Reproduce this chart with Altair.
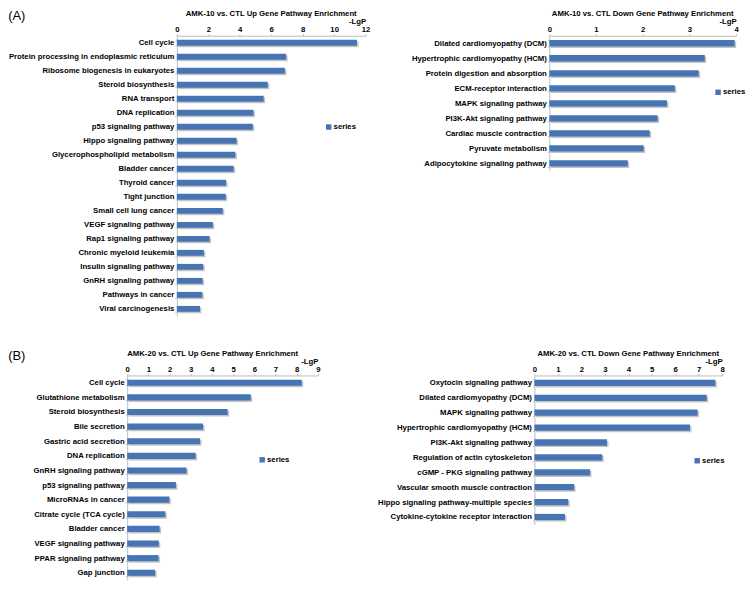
import altair as alt
import pandas as pd

FONT = "Liberation Sans"
BLUE = "#4775b3"
SHADOW = "#c4c4c4"
FS = 7.8

# ---- data ----
a1_cats = ["Cell cycle", "Protein processing in endoplasmic reticulum",
           "Ribosome biogenesis in eukaryotes", "Steroid biosynthesis", "RNA transport",
           "DNA replication", "p53 signaling pathway", "Hippo signaling pathway",
           "Glycerophospholipid metabolism", "Bladder cancer", "Thyroid cancer",
           "Tight junction", "Small cell lung cancer", "VEGF signaling pathway",
           "Rap1 signaling pathway", "Chronic myeloid leukemia", "Insulin signaling pathway",
           "GnRH signaling pathway", "Pathways in cancer", "Viral carcinogenesis"]
a1_vals = [11.45, 6.95, 6.87, 5.78, 5.52, 4.87, 4.83, 3.80, 3.72, 3.61,
           3.13, 3.11, 2.92, 2.29, 2.08, 1.72, 1.68, 1.64, 1.62, 1.47]

a2_cats = ["Dilated cardiomyopathy (DCM)", "Hypertrophic cardiomyopathy (HCM)",
           "Protein digestion and absorption", "ECM-receptor interaction",
           "MAPK signaling pathway", "PI3K-Akt signaling pathway",
           "Cardiac muscle contraction", "Pyruvate metabolism",
           "Adipocytokine signaling pathway"]
a2_vals = [3.97, 3.33, 3.20, 2.69, 2.52, 2.32, 2.15, 2.02, 1.68]

b1_cats = ["Cell cycle", "Glutathione metabolism", "Steroid biosynthesis", "Bile secretion",
           "Gastric acid secretion", "DNA replication", "GnRH signaling pathway",
           "p53 signaling pathway", "MicroRNAs in cancer", "Citrate cycle (TCA cycle)",
           "Bladder cancer", "VEGF signaling pathway", "PPAR signaling pathway",
           "Gap junction"]
b1_vals = [8.24, 5.83, 4.74, 3.58, 3.44, 3.23, 2.80, 2.30, 1.99, 1.80,
           1.53, 1.49, 1.48, 1.32]

b2_cats = ["Oxytocin signaling pathway", "Dilated cardiomyopathy (DCM)",
           "MAPK signaling pathway", "Hypertrophic cardiomyopathy (HCM)",
           "PI3K-Akt signaling pathway", "Regulation of actin cytoskeleton",
           "cGMP - PKG signaling pathway", "Vascular smooth muscle contraction",
           "Hippo signaling pathway-multiple species",
           "Cytokine-cytokine receptor interaction"]
b2_vals = [7.71, 7.34, 6.95, 6.63, 3.09, 2.89, 2.37, 1.69, 1.44, 1.30]

titles = ["AMK-10 vs. CTL Up Gene Pathway Enrichment",
          "AMK-10 vs. CTL Down Gene Pathway Enrichment",
          "AMK-20 vs. CTL Up Gene Pathway Enrichment",
          "AMK-20 vs. CTL Down Gene Pathway Enrichment"]
x_max = [12, 4, 9, 8]
x_step = [2, 1, 1, 1]
panel_tags = ["(A)", "(B)"]


def panel(cats, vals, xmax, xstep, w, h, title, anchor, leg_xy):
    df = pd.DataFrame({"pathway": cats, "lgp": vals, "series": ["series"] * len(cats)})
    ticks = list(range(0, xmax + 1, xstep))
    x = alt.X("lgp:Q",
              scale=alt.Scale(domain=[0, xmax], nice=False, zero=True),
              axis=alt.Axis(orient="top", values=ticks, format="d", title="-LgP",
                            titleAnchor="end", titleAlign="right", titleFontSize=FS,
                            titleFont=FONT, titleFontWeight="bold", titleColor="black",
                            titlePadding=0, labelPadding=0, tickSize=2,
                            labelFlush=False))
    y = alt.Y("pathway:N", sort=cats,
              scale=alt.Scale(paddingInner=0.58, paddingOuter=0.29),
              axis=alt.Axis(title=None, labelPadding=1, tickSize=2, tickBand="extent",
                            labelLimit=400))
    base = alt.Chart(df)
    shadow = base.mark_bar(color=SHADOW, xOffset=1.5, yOffset=1.5).encode(x=x, y=y)
    bars = base.mark_bar().encode(
        x=x, y=y,
        color=alt.Color("series:N", scale=alt.Scale(domain=["series"], range=[BLUE]),
                        legend=alt.Legend(orient="none", legendX=leg_xy[0],
                                          legendY=leg_xy[1], title=None,
                                          symbolType="square", symbolSize=30,
                                          symbolStrokeWidth=0, labelFont=FONT,
                                          labelFontSize=FS, labelFontWeight="bold",
                                          labelColor="black", labelOffset=1,
                                          padding=0)))
    return alt.layer(shadow, bars).properties(
        width=w, height=h,
        title=alt.TitleParams(title, anchor=anchor, frame="group", fontSize=FS,
                              font=FONT, fontWeight="bold", color="black", offset=0))


A1 = panel(a1_cats, a1_vals, x_max[0], x_step[0], 190, 282, titles[0], "middle", (149, 88))
A2 = panel(a2_cats, a2_vals, x_max[1], x_step[1], 188, 136, titles[1], "middle", (166, 53))
B1 = panel(b1_cats, b1_vals, x_max[2], x_step[2], 192, 206, titles[2], "start", (132, 81))
B2 = panel(b2_cats, b2_vals, x_max[3], x_step[3], 189, 150, titles[3], "middle", (160, 82))


def tag_title(text, dx):
    return alt.TitleParams(text, anchor="start", fontSize=13, font=FONT,
                           fontWeight="normal", color="black", offset=-13, dx=dx)


spacer = alt.Chart(pd.DataFrame({"s": [0]})).mark_point(opacity=0).encode(
    x=alt.value(0), y=alt.value(0)).properties(width=50, height=10)

inner_a = alt.hconcat(A1, A2, spacing=185, bounds="flush").resolve_scale(color="independent")
row1 = alt.hconcat(spacer, inner_a, spacing=0, bounds="flush",
                   title=tag_title(panel_tags[0], 0)).resolve_scale(color="independent")
row2 = alt.hconcat(B1, B2, spacing=218, bounds="flush",
                   title=tag_title(panel_tags[1], -25)).resolve_scale(color="independent")

chart = alt.concat(row1, row2, columns=1, align="none", spacing=34).resolve_scale(
    color="independent").properties(
    padding=0, background="white"
).configure_view(stroke=None).configure_axis(
    labelFont=FONT, labelFontSize=FS, labelFontWeight="bold", labelColor="black",
    domainColor="#bdbdbd", tickColor="#bdbdbd", grid=False
)

chart.save("out.html", embed_options={"renderer": "svg", "actions": False})
